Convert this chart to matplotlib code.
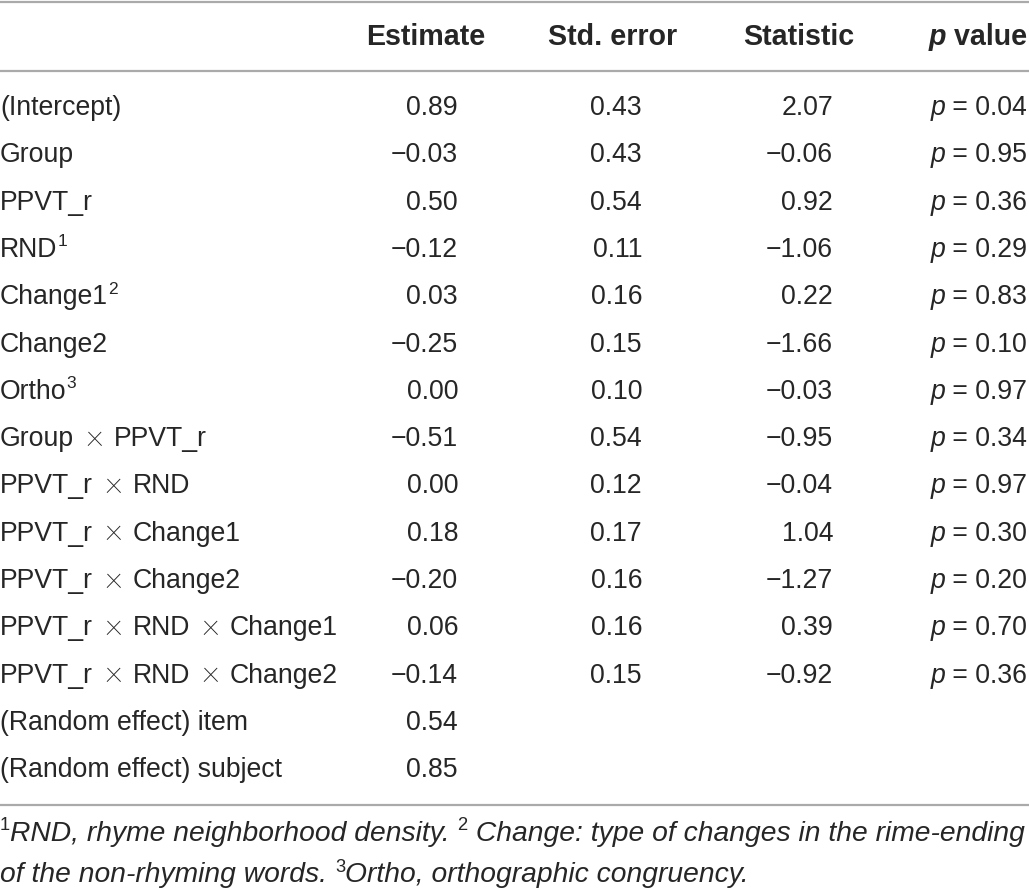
import matplotlib
matplotlib.use("Agg")
import matplotlib.pyplot as plt

# table content
columns = ["Estimate", "Std. error", "Statistic", "p value"]
row_labels = ["(Intercept)", "Group", "PPVT_r", "RND", "Change1", "Change2", "Ortho",
              "Group \u00d7 PPVT_r", "PPVT_r \u00d7 RND", "PPVT_r \u00d7 Change1",
              "PPVT_r \u00d7 Change2", "PPVT_r \u00d7 RND \u00d7 Change1",
              "PPVT_r \u00d7 RND \u00d7 Change2", "(Random effect) item",
              "(Random effect) subject"]
row_sup = {"RND": "1", "Change1": "2", "Ortho": "3"}
estimate = [0.89, -0.03, 0.50, -0.12, 0.03, -0.25, 0.00, -0.51, 0.00, 0.18, -0.20,
            0.06, -0.14, 0.54, 0.85]
std_error = [0.43, 0.43, 0.54, 0.11, 0.16, 0.15, 0.10, 0.54, 0.12, 0.17, 0.16, 0.16, 0.15]
statistic = [2.07, -0.06, 0.92, -1.06, 0.22, -1.66, -0.03, -0.95, -0.04, 1.04, -1.27,
             0.39, -0.92]
p_value = [0.04, 0.95, 0.36, 0.29, 0.83, 0.10, 0.97, 0.34, 0.97, 0.30, 0.20, 0.70, 0.36]

FONT = "Liberation Sans"
FS = 19.2       # body text
FS_HEAD = 20.6  # bold header
FS_NOTE = 20.3  # footnote
COLOR = "#262626"
LINE = "#aaaaaa"

W, H = 1029, 892
fig = plt.figure(figsize=(W / 100, H / 100), dpi=100)
ax = fig.add_axes([0, 0, 1, 1])
ax.set_xlim(0, W)
ax.set_ylim(H, 0)
ax.axis("off")
fig.canvas.draw()
renderer = fig.canvas.get_renderer()


def fmt(v):
    s = f"{abs(v):.2f}"
    return ("\u2212" + s) if v < 0 else s


def width(t):
    return t.get_window_extent(renderer).width


def put(x, y, s, ha="left", size=FS, weight="normal", style="normal", va="center",
        family=FONT):
    return ax.text(x, y, s, ha=ha, va=va, fontsize=size, fontweight=weight,
                   fontstyle=style, family=family, color=COLOR)


def label(x, y, s):
    # the "×" in the labels is a thin glyph with wide gaps
    parts = s.split(" \u00d7 ")
    for k, p in enumerate(parts):
        if k > 0:
            x += 11
            t = put(x, y - 3, "\u00d7", size=FS * 1.3, weight="light", family="Roboto")
            x += width(t) + 11
        t = put(x, y, p)
        x += width(t)
    return x


def segments(x, y, parts, size):
    # parts: list of (text, style, is_sup)
    for s, st, sup in parts:
        if sup:
            t = put(x, y - 8, s, size=size * 0.65)
        else:
            t = put(x, y, s, style=st, size=size)
        x += width(t)
    return x


# horizontal rules
for yy in [1.5, 71, 805]:
    ax.plot([0, W], [yy, yy], color=LINE, lw=1.6, solid_capstyle="butt")

head_right = [485, 677, 854, 1027]
num_right = [458, 642, 833, 1027]

# header
hy = 37
for c, xr in zip(columns[:3], head_right[:3]):
    put(xr, hy, c, ha="right", weight="bold", size=FS_HEAD)
t = put(head_right[3], hy, " value", ha="right", weight="bold", size=FS_HEAD)
put(head_right[3] - width(t), hy, "p", ha="right", weight="bold", style="italic",
    size=FS_HEAD)

# body
y0, step = 108, 47.3
for i, lab in enumerate(row_labels):
    y = y0 + i * step
    xe = label(0, y, lab)
    if lab in row_sup:
        put(xe, y - 8, row_sup[lab], size=FS * 0.65)
    put(num_right[0], y, fmt(estimate[i]), ha="right")
    if i < len(std_error):
        put(num_right[1], y, fmt(std_error[i]), ha="right")
        put(num_right[2], y, fmt(statistic[i]), ha="right")
        t = put(num_right[3], y, f" = {p_value[i]:.2f}", ha="right")
        put(num_right[3] - width(t), y, "p", ha="right", style="italic")

# footnotes
segments(0, 834, [("1", "normal", True),
                  ("RND, rhyme neighborhood density. ", "italic", False),
                  ("2", "normal", True),
                  (" Change: type of changes in the rime-ending", "italic", False)],
         FS_NOTE)
segments(0, 875, [("of the non-rhyming words. ", "italic", False),
                  ("3", "normal", True),
                  ("Ortho, orthographic congruency.", "italic", False)],
         FS_NOTE)

fig.savefig("out.png", dpi=100)
